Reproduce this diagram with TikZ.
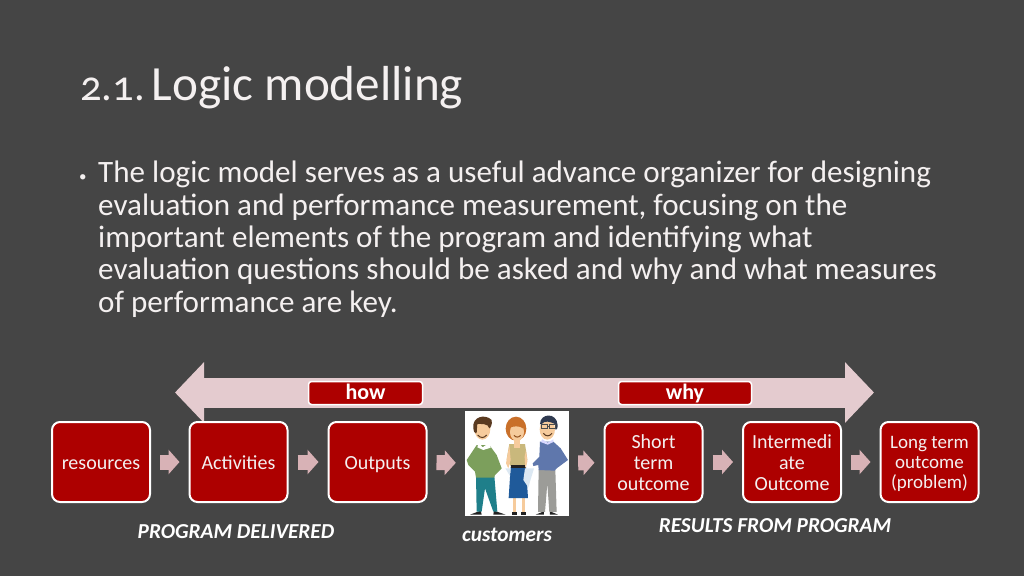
\documentclass[tikz,border=0pt]{standalone}
\usepackage{fontspec}
\setmainfont[Numbers=OldStyle]{Carlito}
\usetikzlibrary{arrows.meta}
\definecolor{bg}{HTML}{454545}
\definecolor{boxred}{HTML}{AD0000}
\definecolor{smallarrow}{HTML}{D8B2B6}
\definecolor{bigarrow}{HTML}{E4CBCF}
\definecolor{txt}{HTML}{F4F0F0}
\definecolor{skin}{HTML}{F6CB9C}
\definecolor{hairA}{HTML}{5A3A20}
\definecolor{hairB}{HTML}{C9702A}
\definecolor{hairC}{HTML}{2F3A50}
\definecolor{sweatA}{HTML}{7C9F5C}
\definecolor{trousA}{HTML}{1F7F8A}
\definecolor{topB}{HTML}{C9B87C}
\definecolor{skirtB}{HTML}{1F5A9A}
\definecolor{scarfB}{HTML}{DCE8F2}
\definecolor{sweatC}{HTML}{5F77AC}
\definecolor{trousC}{HTML}{9C9C98}
\definecolor{shoe}{HTML}{222222}
\tikzset{
 x=1pt,y=-1pt,
 stagebase/.style={draw=white,line width=2pt,fill=boxred,rounded corners=8pt,minimum width=98pt,minimum height=80pt,text=txt,align=center,inner sep=0pt,font=\fontsize{20}{21}\selectfont,anchor=center},
 stagebox/.style={stagebase,text height=20pt,text depth=6pt},
 stackbox/.style={stagebase,text height=66pt,text depth=10pt},
 tagbox/.style={draw=white,line width=1.5pt,fill=boxred,rounded corners=3pt,minimum height=23pt,text=white,inner sep=0pt,font=\fontsize{22}{22}\selectfont\bfseries,anchor=center},
 flow/.style={draw=smallarrow,line width=15pt,shorten <=9pt,shorten >=9pt,-{Triangle[width=24pt,length=11pt]}},
 span/.style={draw=bigarrow,line width=30pt,{Triangle[width=59pt,length=29pt]}-{Triangle[width=59pt,length=29pt]}},
 caption/.style={text=white,inner sep=0pt,font=\fontsize{21.3}{23}\selectfont\bfseries\itshape,anchor=center},
}
\begin{document}
\begin{tikzpicture}
\fill[bg] (0,0) rectangle (1024,576);
\useasboundingbox (0,0) rectangle (1024,576);
\node[anchor=base west,inner sep=0pt,text=txt,font=\fontsize{49.2}{52}\selectfont] (title) at (80,100) {{\fontsize{42.5}{52}\selectfont 2.1.}\hspace{7pt}Logic modelling};
\node[anchor=base west,inner sep=0pt,text=txt,font=\fontsize{15}{15}\selectfont] (bullet) at (79,181) {•};
\node[anchor=north west,inner sep=0pt,align=left,text=txt,font=\fontsize{31.1}{32.3}\selectfont] (body) at (98,161) {The logic model serves as a useful advance organizer for designing\\evaluation and performance measurement, focusing on the\\important elements of the program and identifying what\\evaluation questions should be asked and why and what measures\\of performance are key.};
% big arrow
\coordinate (spanL) at (175,392.5);
\coordinate (spanR) at (874,392.5);
\draw[span] (spanL) -- (spanR);
\node[tagbox,minimum width=114pt,text height=17pt,text depth=5pt] (how) at (365.5,393) {how};
\node[tagbox,minimum width=133pt,text height=17pt,text depth=5pt] (why) at (685,393) {why};
% boxes
\node[stagebox] (res) at (101,462) {resources};
\node[stagebox] (act) at (238.5,462) {Activities};
\node[stagebox] (out) at (377.5,462) {Outputs};
\node[stackbox] (sht) at (653.5,462) {Short\\term\\outcome};
\node[stackbox] (int) at (792,462) {Intermedi\\ate\\Outcome};
\node[stackbox,text height=64pt,text depth=12pt,font=\fontsize{19}{20}\selectfont] (lng) at (929.5,462) {Long term\\outcome\\(problem)};
% customers picture
\node[draw=none,fill=white,minimum width=104pt,minimum height=105pt,inner sep=0pt] (cust) at (517,463.5) {};
\begin{scope}[shift={(440,400)},x=0.3333pt,y=-0.3333pt]
 % person 1
 \fill[shoe] (90,344) -- (122,332) -- (125,344) -- cycle;
 \fill[shoe] (162,332) -- (197,344) -- (160,344) -- cycle;
 \fill[trousA] (108,228) -- (163,228) -- (172,335) -- (160,335) -- (135,265) -- (125,335) -- (110,335) -- cycle;
 \fill[sweatA] (110,135) -- (148,135) -- (170,165) -- (185,205) -- (165,225) -- (162,233) -- (108,233) -- (105,215) -- (85,195) -- (80,180) -- cycle;
 \fill[white] (116,128) -- (128,142) -- (148,128) -- (152,143) -- (130,150) -- (112,142) -- cycle;
 \fill[skin] (127,87) ellipse [x radius=24,y radius=32];
 \fill[hairA] (100,85) .. controls (95,50) and (135,40) .. (155,60) .. controls (158,75) and (150,85) .. (148,85) .. controls (145,70) and (125,72) .. (112,72) .. controls (110,85) and (112,100) .. (108,100) .. controls (103,100) and (100,92) .. (100,85) -- cycle;
 \draw[hairA,line width=1pt] (113,105) .. controls (122,115) and (132,115) .. (140,105);
 % person 2
 \fill[shoe] (216,345) rectangle (230,335);
 \fill[shoe] (244,345) rectangle (258,335);
 \fill[skin] (220,290) rectangle (228,336);
 \fill[skin] (247,290) rectangle (255,336);
 \fill[skirtB] (212,200) -- (258,200) -- (264,294) -- (206,294) -- cycle;
 \fill[scarfB] (255,205) -- (282,205) -- (265,262) -- (250,240) -- cycle;
 \fill[scarfB] (196,205) -- (212,205) -- (210,228) -- cycle;
 \fill[topB] (208,132) -- (255,132) -- (262,178) -- (258,198) -- (212,198) -- (200,178) -- cycle;
 \fill[shoe] (212,196) rectangle (258,204);
 \fill[skin] (208,135) -- (198,190) -- (205,205) -- (212,180) -- cycle;
 \fill[skin] (258,150) -- (262,185) -- (256,205) -- (254,170) -- cycle;
 \fill[hairB] (228,86) ellipse [x radius=31,y radius=36];
 \fill[skin] (222,115) rectangle (240,145);
 \fill[skin] (231,96) ellipse [x radius=21,y radius=27];
 \fill[hairB] (208,84) .. controls (218,78) and (240,76) .. (250,86) .. controls (250,60) and (212,60) .. (208,84) -- cycle;
 \draw[hairB!70!black,line width=1pt] (222,106) .. controls (228,113) and (236,113) .. (242,106);
 % person 3
 \fill[shoe] (287,344) -- (312,334) -- (312,344) -- cycle;
 \fill[shoe] (330,334) -- (354,344) -- (330,344) -- cycle;
 \fill[trousC] (296,208) -- (346,208) -- (350,336) -- (328,336) -- (322,250) -- (315,336) -- (294,336) -- cycle;
 \fill[sweatC] (300,125) -- (340,125) -- (362,145) -- (384,180) -- (350,205) -- (344,212) -- (296,210) -- (295,195) -- (280,198) -- (278,190) -- (298,170) -- cycle;
 \fill[white!85!blue] (307,118) -- (323,128) -- (340,118) -- (340,126) -- (323,134) -- (302,126) -- cycle;
 \fill[skin] (322,88) ellipse [x radius=23,y radius=31];
 \fill[hairC] (300,72) .. controls (300,40) and (350,35) .. (353,75) .. controls (353,85) and (350,90) .. (347,90) -- (345,72) .. controls (330,65) and (315,60) .. (305,72) -- cycle;
 \draw[black!70,line width=0.8pt] (303,74) rectangle (322,86) (328,74) rectangle (346,86) (322,78) -- (328,78);
 \draw[hairA,line width=1pt] (310,100) .. controls (318,110) and (328,110) .. (336,100);
\end{scope}
% connectors
\draw[flow] (res) -- (act);
\draw[flow] (act) -- (out);
\draw[flow] (out) -- (cust);
\draw[flow] (cust) -- (sht);
\draw[flow] (sht) -- (int);
\draw[flow] (int) -- (lng);
% captions
\node[caption] (c1) at (236,532) {PROGRAM DELIVERED};
\node[caption] (c2) at (507,535) {customers};
\node[caption] (c3) at (775,526) {RESULTS FROM PROGRAM};
\end{tikzpicture}
\end{document}
